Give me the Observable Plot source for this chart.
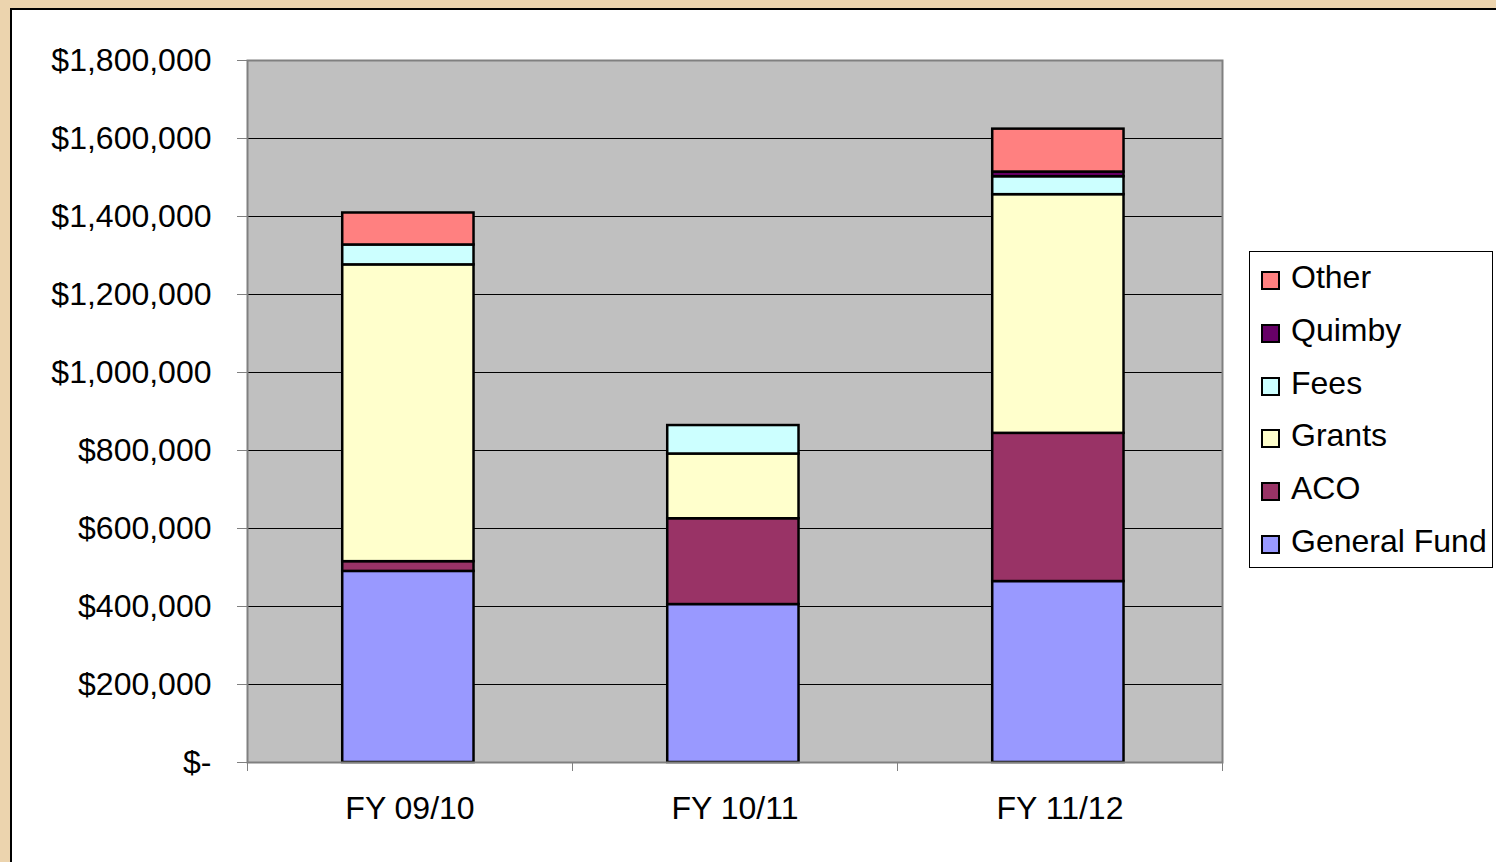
<!DOCTYPE html>
<html>
<head>
<meta charset="utf-8">
<script src="https://cdn.jsdelivr.net/npm/d3@7"></script>
<script src="https://cdn.jsdelivr.net/npm/@observablehq/plot@0.6"></script>
<style>
  html, body { margin: 0; padding: 0; }
  body { width: 1496px; height: 862px; background: #ECD4AE; position: relative; overflow: hidden;
         font-family: "Liberation Sans", Arial, sans-serif; }
  #panel { position: absolute; left: 10px; top: 8px; width: 1486px; height: 854px; box-sizing: border-box;
           background: #fff; border-left: 2px solid #000; border-top: 2px solid #000; }
  #chart { position: absolute; left: 10px; top: 8px; }
  #legend { position: absolute; left: 1249px; top: 251px; width: 244px; height: 317px; box-sizing: border-box;
            border: 1.5px solid #000; background: #fff; }
  .row { position: absolute; left: 0; height: 32px; line-height: 32px; font-size: 32px; color: #000; white-space: nowrap; }
  .sw { position: absolute; left: 11px; top: 10px; width: 19px; height: 19px; box-sizing: border-box; border: 2px solid #000; }
  .lab { position: absolute; left: 41px; top: 0; }
</style>
</head>
<body>
<div id="panel"></div>
<div id="chart"></div>
<div id="legend"></div>
<script>
// ---- data ----
const categories = ["FY 09/10", "FY 10/11", "FY 11/12"];
const seriesNames = ["General Fund", "ACO", "Grants", "Fees", "Quimby", "Other"];
const generalFund = [490000, 405000, 464000];
const aco         = [25000, 220000, 380000];
const grants      = [761000, 166000, 612000];
const fees        = [51000, 73000, 46000];
const quimby      = [0, 0, 12000];
const other       = [82000, 0, 110000];
const seriesColors = ["#9999FF", "#993366", "#FFFFCC", "#CCFFFF", "#660066", "#FF8080"];
const yTicks = [0, 200000, 400000, 600000, 800000, 1000000, 1200000, 1400000, 1600000, 1800000];

const seriesValues = [generalFund, aco, grants, fees, quimby, other];

// stacked rows
const rows = [];
categories.forEach((cat, i) => {
  let base = 0;
  seriesNames.forEach((s, k) => {
    const v = seriesValues[k][i];
    if (v > 0) rows.push({ i, cat, series: s, y1: base, y2: base + v });
    base += v;
  });
});

const fmt = d => d === 0 ? "$-" : "$" + d3.format(",")(d);

const chart = Plot.plot({
  width: 1486,
  height: 854,
  marginLeft: 237,
  marginRight: 274,
  marginTop: 52,
  marginBottom: 100,
  style: { fontFamily: "'Liberation Sans', Arial, sans-serif", fontSize: "32px", color: "#000", background: "transparent", overflow: "visible" },
  x: { type: "linear", domain: [0, categories.length], label: null },
  y: { domain: [0, 1800000], label: null },
  color: { domain: seriesNames, range: seriesColors },
  marks: [
    Plot.frame({ fill: "#C0C0C0", stroke: "none" }),
    Plot.gridY(yTicks, { stroke: "#000", strokeOpacity: 1, strokeWidth: 1 }),
    Plot.rect(rows, {
      x1: d => d.i + 0.293, x2: d => d.i + 0.697,
      y1: "y1", y2: "y2",
      fill: "series", stroke: "#000", strokeWidth: 2.5
    }),
    Plot.frame({ stroke: "#808080", strokeWidth: 2 }),
    Plot.axisY(yTicks, { tickSize: 10, tickPadding: 26, tickFormat: fmt, stroke: "#808080", fill: "#000", fontSize: 32 }),
    Plot.axisX(d3.range(categories.length + 1), { tickSize: 9, tickFormat: () => "", stroke: "#808080" }),
    Plot.axisX(categories.map((c, i) => i + 0.5), { tickSize: 0, tickPadding: 34, tickFormat: d => categories[Math.floor(d)], fill: "#000", fontSize: 32 })
  ]
});
document.getElementById("chart").appendChild(chart);

// legend (top to bottom: reverse of stack order)
const legend = document.getElementById("legend");
const order = seriesNames.map((s, k) => k).reverse();
order.forEach((k, j) => {
  const row = document.createElement("div");
  row.className = "row";
  row.style.top = (9 + j * 52.8) + "px";
  const sw = document.createElement("div");
  sw.className = "sw";
  sw.style.background = seriesColors[k];
  const lab = document.createElement("span");
  lab.className = "lab";
  lab.textContent = seriesNames[k];
  row.appendChild(sw);
  row.appendChild(lab);
  legend.appendChild(row);
});
</script>
</body>
</html>
